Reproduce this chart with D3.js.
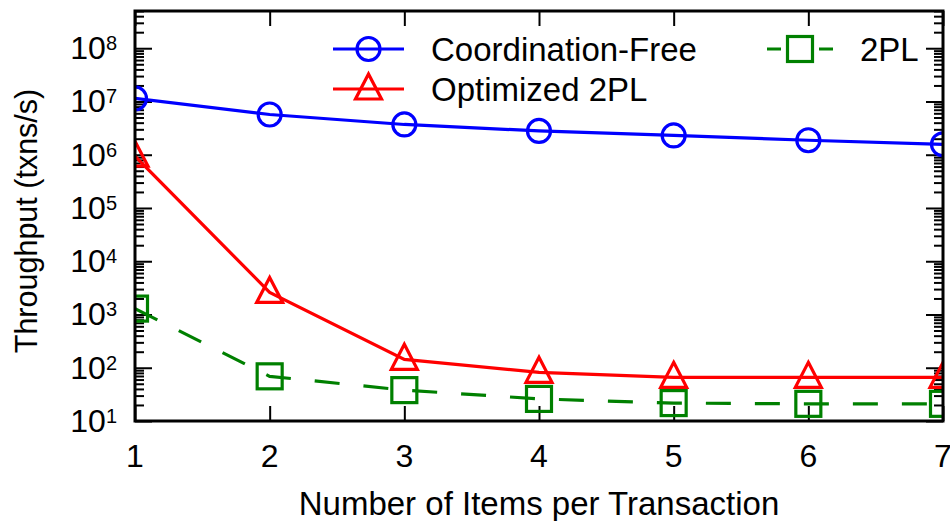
<!DOCTYPE html>
<html>
<head>
<meta charset="utf-8">
<script src="https://cdn.jsdelivr.net/npm/d3@7"></script>
<style>
  body { margin: 0; background: #fff; }
  text { font-family: "Liberation Sans", Arial, sans-serif; fill: #000; }
</style>
</head>
<body>
<svg id="chart" width="950" height="521"></svg>
<script>
const items = [1, 2, 3, 4, 5, 6, 7];
const coordFree = [1.14e7, 5.7e6, 3.7e6, 2.8e6, 2.3e6, 1.87e6, 1.57e6];
const opt2pl = [9.4e5, 2.6e3, 144, 82, 66, 66, 66];
const twoPL = [1290, 69, 38, 26, 21.7, 21, 21];
const yTicks = [1e1, 1e2, 1e3, 1e4, 1e5, 1e6, 1e7, 1e8];
const seriesNames = ['Coordination-Free', 'Optimized 2PL', '2PL'];

const margin = {top: 11, right: 7, bottom: 100, left: 135};
const width = 950 - margin.left - margin.right;
const height = 521 - margin.top - margin.bottom;

const x = d3.scaleLinear().domain([1, 7]).range([0, width]);
const y = d3.scaleLog().domain([10, 5e8]).range([height, 0]);

const svg = d3.select('#chart');
const chart = svg.append('g')
  .attr('transform', `translate(${margin.left}, ${margin.top})`);

svg.append('defs').append('clipPath').attr('id', 'plotClip')
  .append('rect').attr('width', width).attr('height', height);

// minor ticks for log axis
const minors = [];
for (let e = 1; e <= 8; e++) {
  for (let k = 2; k <= 9; k++) {
    const v = k * Math.pow(10, e);
    if (v <= 5e8) minors.push(v);
  }
}

function styleAxis(g) {
  g.select('.domain').remove();
  g.selectAll('.tick line').attr('stroke', '#000').attr('stroke-width', 2);
}

// y major/minor, left and right (inward)
chart.append('g').call(d3.axisLeft(y).tickValues(yTicks).tickSize(-17).tickFormat('')).call(styleAxis);
chart.append('g').call(d3.axisLeft(y).tickValues(minors).tickSize(-9).tickFormat('')).call(styleAxis);
chart.append('g').attr('transform', `translate(${width},0)`)
  .call(d3.axisRight(y).tickValues(yTicks).tickSize(-17).tickFormat('')).call(styleAxis);
chart.append('g').attr('transform', `translate(${width},0)`)
  .call(d3.axisRight(y).tickValues(minors).tickSize(-9).tickFormat('')).call(styleAxis);

// x ticks bottom and top
chart.append('g').attr('transform', `translate(0,${height})`)
  .call(d3.axisBottom(x).tickValues(items).tickSize(-15).tickFormat('')).call(styleAxis);
chart.append('g')
  .call(d3.axisTop(x).tickValues(items).tickSize(-15).tickFormat('')).call(styleAxis);

// y tick labels with superscripts
const yl = chart.append('g').selectAll('text').data(yTicks).enter().append('text')
  .attr('x', -18)
  .attr('y', d => y(d) + 11)
  .attr('text-anchor', 'end')
  .style('font-size', '32px');
yl.append('tspan').text('10');
yl.append('tspan').attr('dy', -9).style('font-size', '20px').text(d => Math.round(Math.log10(d)));

// x tick labels (the last one runs off the right edge, as in the original)
chart.append('g').selectAll('text').data(items).enter().append('text')
  .attr('x', d => x(d))
  .attr('y', height + 46)
  .attr('text-anchor', 'middle')
  .style('font-size', '32px')
  .text(d => d);

// axis titles
chart.append('text')
  .attr('x', width / 2)
  .attr('y', height + 94)
  .attr('text-anchor', 'middle')
  .style('font-size', '33px')
  .text('Number of Items per Transaction');

chart.append('text')
  .attr('transform', `translate(${-98}, ${210}) rotate(-90)`)
  .attr('text-anchor', 'middle')
  .style('font-size', '30.5px')
  .text('Throughput (txns/s)');

// series
const series = [
  {name: seriesNames[0], values: coordFree, color: '#0000ff', shape: 'circle', dash: null},
  {name: seriesNames[1], values: opt2pl, color: '#ff0000', shape: 'triangle', dash: null},
  {name: seriesNames[2], values: twoPL, color: '#008000', shape: 'square', dash: '25,24'}
];

function drawMarker(g, shape, cx, cy, color) {
  if (shape === 'circle') {
    g.append('circle').attr('cx', cx).attr('cy', cy).attr('r', 11.5)
      .attr('fill', 'none').attr('stroke', color).attr('stroke-width', 3.2);
  } else if (shape === 'triangle') {
    const s = 13;
    g.append('path')
      .attr('d', `M${cx},${cy - s - 2}L${cx + s},${cy + s - 3}L${cx - s},${cy + s - 3}Z`)
      .attr('fill', 'none').attr('stroke', color).attr('stroke-width', 3.2);
  } else {
    const s = 12.5;
    g.append('rect').attr('x', cx - s).attr('y', cy - s).attr('width', 2 * s).attr('height', 2 * s)
      .attr('fill', 'none').attr('stroke', color).attr('stroke-width', 3.2);
  }
}

const plot = chart.append('g').attr('clip-path', 'url(#plotClip)');
const line = d3.line().x((d, i) => x(items[i])).y(d => y(d));

series.slice().reverse().forEach(s => {
  plot.append('path')
    .datum(s.values)
    .attr('fill', 'none')
    .attr('stroke', s.color)
    .attr('stroke-width', 3.2)
    .attr('stroke-dasharray', s.dash)
    .attr('d', line);
  s.values.forEach((v, i) => drawMarker(plot, s.shape, x(items[i]), y(v), s.color));
});

// legend
const legendPos = [
  {lx: 333 - margin.left, ly: 49 - margin.top},
  {lx: 333 - margin.left, ly: 89 - margin.top},
  {lx: 767 - margin.left, ly: 49 - margin.top}
];
series.forEach((s, i) => {
  const p = legendPos[i];
  const lg = chart.append('g');
  const lw = i === 2 ? 66 : 71;
  lg.append('line')
    .attr('x1', p.lx).attr('x2', p.lx + lw)
    .attr('y1', p.ly).attr('y2', p.ly)
    .attr('stroke', s.color).attr('stroke-width', 3.2)
    .attr('stroke-dasharray', s.dash ? '14,38' : null);
  drawMarker(lg, s.shape, p.lx + lw / 2, p.ly, s.color);
  lg.append('text')
    .attr('x', i === 2 ? p.lx + 93 : p.lx + 98)
    .attr('y', p.ly + 12)
    .style('font-size', '33px')
    .text(s.name);
});

// frame
chart.append('rect')
  .attr('width', width).attr('height', height)
  .attr('fill', 'none').attr('stroke', '#000').attr('stroke-width', 3);
</script>
</body>
</html>
